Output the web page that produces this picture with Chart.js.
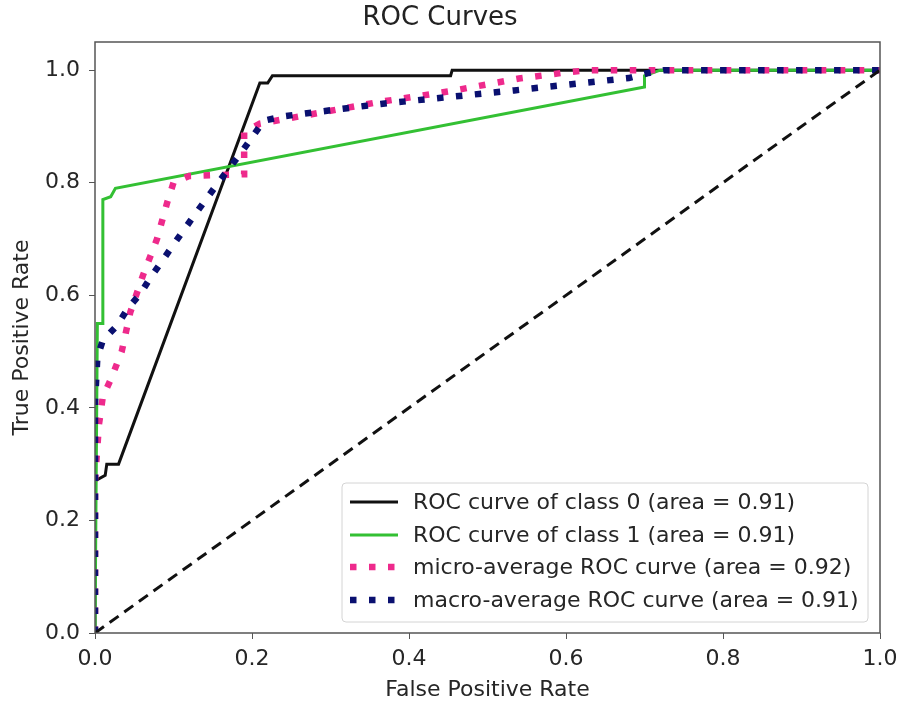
<!DOCTYPE html>
<html>
<head>
<meta charset="utf-8">
<script src="https://cdn.jsdelivr.net/npm/chart.js@4/dist/chart.umd.min.js"></script>
<style>
  html, body { margin: 0; padding: 0; background: #fff; }
  #wrap { width: 898px; height: 704px; }
</style>
</head>
<body>
<div id="wrap"><canvas id="roc" width="898" height="704"></canvas></div>
<script>
// values
const class0X = [0, 0, 0.013, 0.015, 0.03, 0.21, 0.22, 0.226, 0.453, 0.455, 1];
const class0Y = [0, 0.27, 0.28, 0.30, 0.30, 0.977, 0.977, 0.99, 0.99, 1.0, 1.0];

const class1X = [0, 0.003, 0.01, 0.01, 0.02, 0.026, 0.70, 0.70, 0.72, 1];
const class1Y = [0, 0.55, 0.55, 0.77, 0.775, 0.79, 0.97, 0.99, 1.0, 1.0];

const microX = [0, 0, 0.005, 0.01, 0.02, 0.034, 0.045, 0.061, 0.079, 0.092, 0.10, 0.12, 0.19, 0.19, 0.21, 0.36, 0.45, 0.54, 0.60, 0.63, 1];
const microY = [0, 0.27, 0.37, 0.42, 0.45, 0.50, 0.57, 0.635, 0.70, 0.765, 0.80, 0.812, 0.815, 0.89, 0.905, 0.943, 0.962, 0.985, 0.996, 1.0, 1.0];

const macroX = [0, 0, 0.003, 0.01, 0.028, 0.042, 0.058, 0.07, 0.085, 0.10, 0.128, 0.157, 0.188, 0.215, 0.24, 0.364, 0.534, 0.68, 0.705, 0.725, 1];
const macroY = [0, 0.41, 0.49, 0.52, 0.546, 0.577, 0.603, 0.63, 0.66, 0.69, 0.745, 0.80, 0.857, 0.91, 0.918, 0.94, 0.964, 0.986, 0.995, 1.0, 1.0];

const chanceX = [0, 1];
const chanceY = [0, 1];

const labels = [
  'ROC curve of class 0 (area = 0.91)',
  'ROC curve of class 1 (area = 0.91)',
  'micro-average ROC curve (area = 0.92)',
  'macro-average ROC curve (area = 0.91)'
];

const xTicks = [0, 0.2, 0.4, 0.6, 0.8, 1.0];
const yTicks = [0, 0.2, 0.4, 0.6, 0.8, 1.0];

function pts(xs, ys) {
  return xs.map((x, i) => ({ x: x, y: ys[i] }));
}

const font = "'DejaVu Sans', sans-serif";

// box round the plot + legend in the lower right
const frameAndLegend = {
  id: 'frameAndLegend',
  afterDraw(chart) {
    const c = chart.ctx;
    const a = chart.chartArea;
    c.save();
    c.strokeStyle = '#555';
    c.lineWidth = 1.5;
    c.strokeRect(a.left, a.top, a.right - a.left, a.bottom - a.top);

    const bx = 342, by = 483, bw = 526, bh = 139;
    c.fillStyle = 'rgba(255,255,255,0.8)';
    c.strokeStyle = '#d4d4d4';
    c.lineWidth = 1;
    c.beginPath();
    c.roundRect(bx, by, bw, bh, 4);
    c.fill();
    c.stroke();

    const rows = [502, 535, 567, 600];
    chart.data.datasets.slice(0, 4).forEach((ds, i) => {
      const y = rows[i];
      c.strokeStyle = ds.borderColor;
      c.lineWidth = ds.borderWidth;
      c.setLineDash(ds.borderDash || []);
      c.lineCap = 'butt';
      c.beginPath();
      c.moveTo(350, y);
      c.lineTo(398, y);
      c.stroke();
      c.setLineDash([]);
      c.fillStyle = '#262626';
      c.font = '22px ' + font;
      c.textBaseline = 'middle';
      c.textAlign = 'left';
      c.fillText(ds.label, 413, y + 1);
    });
    c.restore();
  }
};

new Chart(document.getElementById('roc'), {
  type: 'scatter',
  data: {
    datasets: [
      { label: labels[0], data: pts(class0X, class0Y), borderColor: '#111', borderWidth: 3, order: 5 },
      { label: labels[1], data: pts(class1X, class1Y), borderColor: '#33c033', borderWidth: 3, order: 4 },
      { label: labels[2], data: pts(microX, microY), borderColor: '#ee2a8c', borderWidth: 6.5, borderDash: [6.5, 12.5], order: 3 },
      { label: labels[3], data: pts(macroX, macroY), borderColor: '#0a1070', borderWidth: 6.5, borderDash: [6.5, 12.5], order: 2 },
      { label: 'chance', data: pts(chanceX, chanceY), borderColor: '#111', borderWidth: 3, borderDash: [11, 7], order: 1 }
    ].map(d => Object.assign(d, { showLine: true, pointRadius: 0, pointHoverRadius: 0, fill: false, tension: 0 }))
  },
  options: {
    responsive: false,
    animation: false,
    events: [],
    layout: { autoPadding: false, padding: { left: 0, right: 18, top: 0, bottom: 0 } },
    plugins: {
      legend: { display: false },
      tooltip: { enabled: false },
      title: {
        display: true,
        text: 'ROC Curves',
        color: '#222',
        font: { family: font, size: 26, weight: 'normal', lineHeight: 1.2 },
        padding: { top: 2.4, bottom: 8.4 }
      }
    },
    scales: {
      x: {
        type: 'linear',
        min: 0,
        max: 1,
        afterBuildTicks: s => { s.ticks = xTicks.map(v => ({ value: v })); },
        afterFit: s => { s.height = 71; s.paddingLeft = 0; s.paddingRight = 0; },
        grid: { drawOnChartArea: false, drawTicks: true, tickLength: 6, tickColor: '#555', color: '#555' },
        border: { display: false },
        ticks: {
          color: '#262626',
          padding: 7,
          maxRotation: 0,
          font: { family: font, size: 22 },
          callback: v => v.toFixed(1)
        },
        title: {
          display: true,
          text: 'False Positive Rate',
          color: '#262626',
          font: { family: font, size: 22 },
          padding: { top: 2, bottom: 1 }
        }
      },
      y: {
        type: 'linear',
        min: 0,
        max: 1.05,
        afterBuildTicks: s => { s.ticks = yTicks.map(v => ({ value: v })); },
        afterFit: s => { s.width = 95; s.paddingTop = 0; s.paddingBottom = 0; },
        grid: { drawOnChartArea: false, drawTicks: true, tickLength: 6, tickColor: '#555', color: '#555' },
        border: { display: false },
        ticks: {
          color: '#262626',
          padding: 9,
          font: { family: font, size: 22 },
          callback: v => v.toFixed(1)
        },
        title: {
          display: true,
          text: 'True Positive Rate',
          color: '#262626',
          font: { family: font, size: 22 },
          padding: { top: 9, bottom: 2 }
        }
      }
    }
  },
  plugins: [frameAndLegend]
});
</script>
</body>
</html>
